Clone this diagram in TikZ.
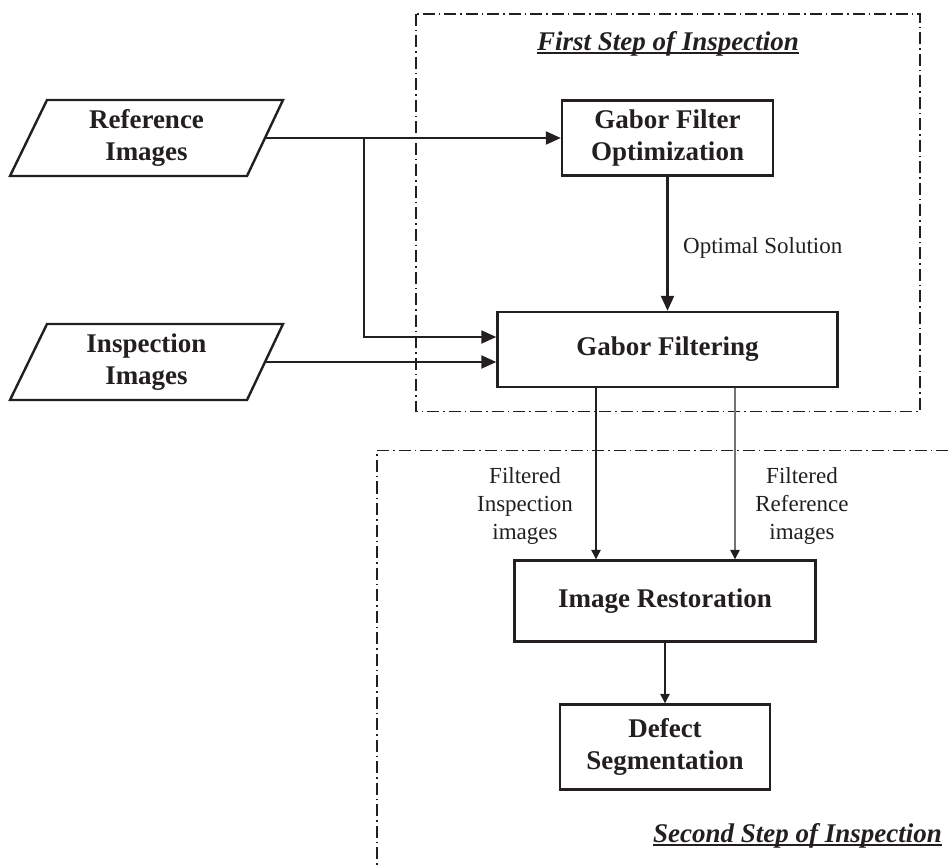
\documentclass[tikz,border=0pt]{standalone}
\usepackage{fontspec}
\setmainfont{Liberation Serif}
\usetikzlibrary{arrows.meta,calc}
\definecolor{ink}{HTML}{231F20}
\begin{document}
\begin{tikzpicture}[x=1pt,y=-1pt, color=ink,
  box/.style={draw, line width=2.4pt, align=center, font=\fontsize{27}{32}\selectfont\bfseries, inner sep=0pt},
  ptext/.style={align=center, font=\fontsize{27}{32}\selectfont\bfseries, inner sep=0pt},
  para/.style={draw, line width=2.4pt, line join=miter},
  lbl/.style={font=\fontsize{23}{28}\selectfont, align=center, inner sep=0pt},
  bigarrow/.style={line width=2.2pt, -{Triangle[length=15pt,width=13pt]}},
  smallarrow/.style={line width=1.2pt, -{Triangle[length=9.5pt,width=9.5pt]}},
  frame/.style={line width=1.3pt, dash pattern=on 12pt off 4pt on 1.5pt off 4pt},
  ttl/.style={font=\fontsize{27}{32}\selectfont\bfseries\itshape, inner sep=0pt, anchor=base},
]
\path[use as bounding box] (0,0) rectangle (948,866);

% frames
\draw[frame] (416,14) rectangle (920,411.5);
\draw[frame] (948,450.5) -- (377,450.5) -- (377,866);

% titles
\node[ttl] (t1) at (668,50.5) {First Step of Inspection};
\draw[line width=1.8pt] ($(t1.base west)+(0,2.8)$) -- ($(t1.base east)+(0,2.8)$);
\node[ttl] (t2) at (797.5,842) {Second Step of Inspection};
\draw[line width=1.8pt] ($(t2.base west)+(0,2.8)$) -- ($(t2.base east)+(0,2.8)$);

% input parallelograms
\draw[para] (47,100) -- (283,100) -- (247,176) -- (10,176) -- cycle;
\node[ptext] (ref) at (146.5,138) {Reference\\Images};
\coordinate (refR) at (265,138);
\draw[para] (47,324) -- (283,324) -- (247,400) -- (10,400) -- cycle;
\node[ptext] (ins) at (146.5,362) {Inspection\\Images};
\coordinate (insR) at (265,362);

% process boxes
\node[box, minimum width=211pt, minimum height=75pt] (gopt) at (667.5,138) {Gabor Filter\\Optimization};
\node[box, minimum width=340pt, minimum height=75pt] (gf) at (667.5,349.5) {Gabor Filtering};
\node[box, minimum width=301pt, minimum height=81pt] (ir) at (665,601) {Image Restoration};
\node[box, minimum width=210pt, minimum height=85pt] (ds) at (665,747) {Defect\\Segmentation};

% connectors (first step)
\coordinate (br) at (364,138);
\draw[bigarrow] (refR) -- (gopt.west);
\draw[bigarrow] (br) |- ($(gf.west)+(0,-12.5)$);
\draw[bigarrow] (insR) -- (insR -| gf.west);
\draw[bigarrow] (gopt.south) -- (gf.north);
\node[lbl, anchor=west] (os) at (683,248) {Optimal Solution};

% connectors (second step)
\coordinate (a1) at ($(gf.south)+(-71.5,0)$);
\coordinate (a2) at ($(gf.south)+(67.5,0)$);
\draw[smallarrow] (a1) -- (a1 |- ir.north);
\draw[smallarrow, black!55, -{Triangle[length=9.5pt,width=9.5pt,color=ink]}] (a2) -- (a2 |- ir.north);
\draw[smallarrow] (ir.south) -- (ds.north);
\node[lbl] (fi) at (525,506) {Filtered\\Inspection\\images};
\node[lbl] (fr) at (802,506) {Filtered\\Reference\\images};
\end{tikzpicture}
\end{document}
